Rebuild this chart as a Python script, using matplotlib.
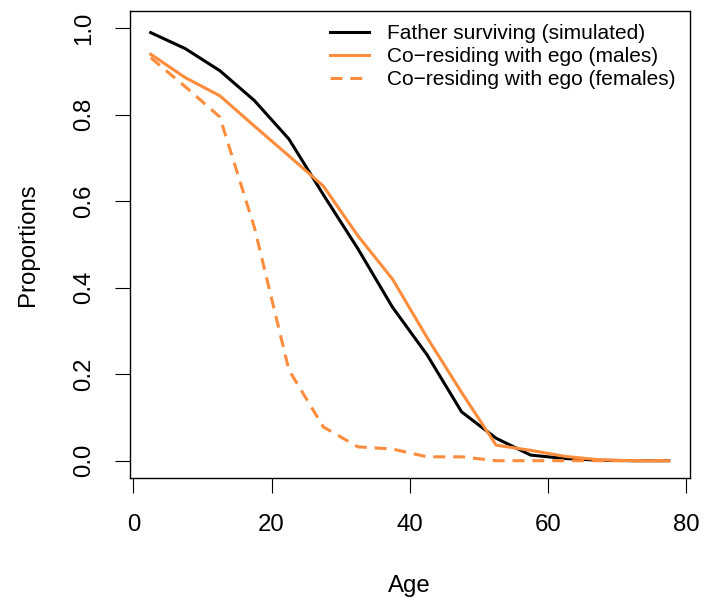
import matplotlib
matplotlib.use("Agg")
import matplotlib.pyplot as plt

plt.rcParams['font.family'] = ['Liberation Sans', 'DejaVu Sans']

ages = [2.5, 7.5, 12.5, 17.5, 22.5, 27.5, 32.5, 37.5, 42.5, 47.5,
        52.5, 57.5, 62.5, 67.5, 72.5, 77.5]
father_surviving = [0.990, 0.953, 0.902, 0.833, 0.744, 0.615, 0.490, 0.355,
                    0.245, 0.113, 0.052, 0.013, 0.005, 0.001, 0.0, 0.0]
coresid_males = [0.940, 0.886, 0.844, 0.774, 0.705, 0.635, 0.520, 0.420,
                 0.285, 0.158, 0.036, 0.024, 0.010, 0.002, 0.0, 0.0]
coresid_females = [0.932, 0.865, 0.795, 0.540, 0.210, 0.078, 0.032, 0.027,
                   0.009, 0.009, 0.0, 0.0, 0.0, 0.0, 0.0, 0.0]

labels = ["Father surviving (simulated)",
          "Co\u2212residing with ego (males)",
          "Co\u2212residing with ego (females)"]
xticks = [0, 20, 40, 60, 80]
yticks = [0.0, 0.2, 0.4, 0.6, 0.8, 1.0]

orange = '#fd8d3c'

fig = plt.figure(figsize=(7.14, 5.97), dpi=100)
ax = fig.add_axes([130 / 714, 1 - 478 / 597, 559.5 / 714, 467 / 597])

lw = 2.2
ax.plot(ages, father_surviving, color='black', lw=lw, label=labels[0])
ax.plot(ages, coresid_males, color=orange, lw=lw, label=labels[1])
ax.plot(ages, coresid_females, color=orange, lw=lw, dashes=[3.9, 2.6],
        label=labels[2])

ax.set_xlim(-0.5, 80.5)
ax.set_ylim(-0.04, 1.04)
ax.set_xticks(xticks)
ax.set_xticklabels([str(t) for t in xticks])
ax.set_yticks(yticks)
ax.set_yticklabels([f"{t:.1f}" for t in yticks], rotation=90, va='center')

for s in ax.spines.values():
    s.set_linewidth(1.0)
ax.tick_params(axis='both', direction='out', length=10.8, width=0.8,
               labelsize=17.3, colors='black')
ax.tick_params(axis='x', pad=15)
ax.tick_params(axis='y', pad=14)

ax.set_xlabel("Age", fontsize=17.3, labelpad=28)
ax.set_ylabel("Proportions", fontsize=17.3, labelpad=25)

leg = ax.legend(loc='upper left', bbox_to_anchor=(330 / 714, 1 - 24 / 597),
                bbox_transform=fig.transFigure, frameon=False, fontsize=15,
                handlelength=1.87, handletextpad=0.86, labelspacing=0.2,
                borderpad=0, borderaxespad=0)

fig.savefig("out.png", dpi=100)
